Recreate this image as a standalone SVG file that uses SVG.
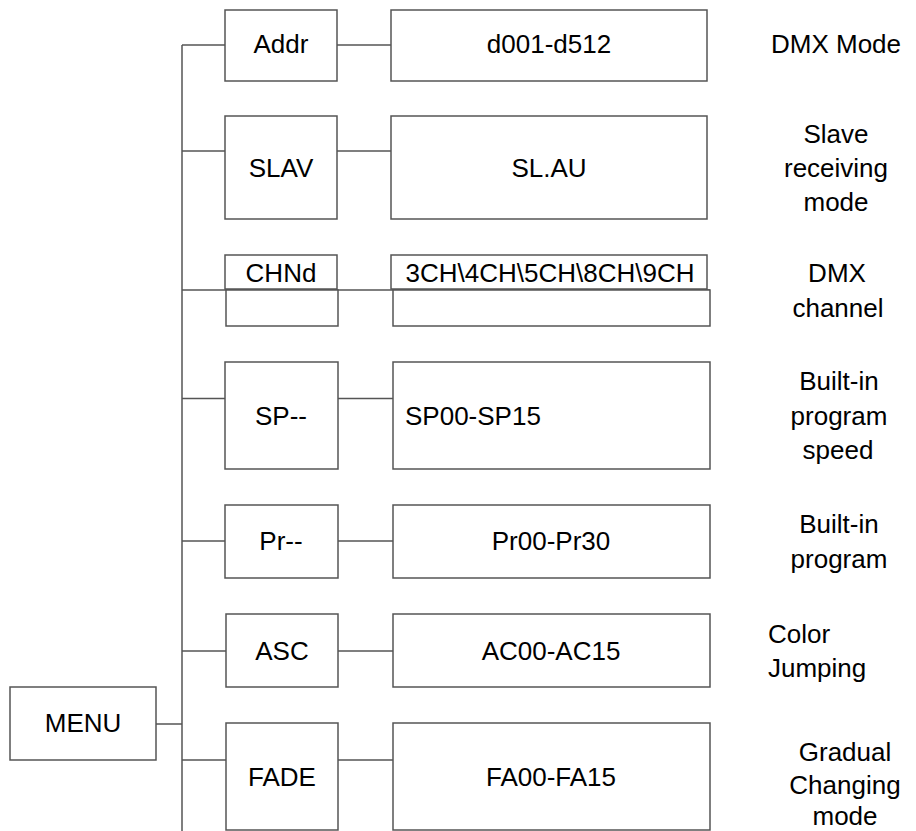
<svg xmlns="http://www.w3.org/2000/svg" width="916" height="831" viewBox="0 0 916 831">
<style>
.box{fill:#fff;stroke:#555;stroke-width:1.5}
.ln{stroke:#555;stroke-width:1.5;fill:none}
text{font-family:"Liberation Sans",Arial,sans-serif;font-size:26px;fill:#000}
.c{text-anchor:middle}
</style>
<rect width="916" height="831" fill="#fff"/>
<g id="connectors">
<line class="ln" x1="182" y1="45" x2="182" y2="831"/>
<line class="ln" x1="182" y1="45" x2="225" y2="45"/>
<line class="ln" x1="337" y1="45" x2="391" y2="45"/>
<line class="ln" x1="182" y1="151" x2="225" y2="151"/>
<line class="ln" x1="337" y1="151" x2="391" y2="151"/>
<line class="ln" x1="182" y1="290" x2="710" y2="290"/>
<line class="ln" x1="182" y1="398.5" x2="225" y2="398.5"/>
<line class="ln" x1="338" y1="398.5" x2="393" y2="398.5"/>
<line class="ln" x1="182" y1="541" x2="225" y2="541"/>
<line class="ln" x1="338" y1="541" x2="393" y2="541"/>
<line class="ln" x1="182" y1="651" x2="226" y2="651"/>
<line class="ln" x1="338" y1="651" x2="393" y2="651"/>
<line class="ln" x1="182" y1="760" x2="226" y2="760"/>
<line class="ln" x1="338" y1="760" x2="393" y2="760"/>
<line class="ln" x1="156" y1="724" x2="182" y2="724"/>
</g>
<g id="menu"><rect class="box" x="10" y="687" width="146" height="73"/><text class="c" x="83" y="732">MENU</text></g>
<g id="addr"><rect class="box" x="225" y="10" width="112" height="71"/><text class="c" x="281" y="53">Addr</text></g>
<g id="addr-val"><rect class="box" x="391" y="10" width="316" height="71"/><text class="c" x="549" y="53">d001-d512</text></g>
<g id="addr-label"><text class="c" x="836" y="53">DMX Mode</text></g>
<g id="slav"><rect class="box" x="225" y="116" width="112" height="103"/><text class="c" x="281" y="177">SLAV</text></g>
<g id="slav-val"><rect class="box" x="391" y="116" width="316" height="103"/><text class="c" x="549" y="177">SL.AU</text></g>
<g id="slav-label"><text class="c" x="836" y="143">Slave</text><text class="c" x="836" y="177">receiving</text><text class="c" x="836" y="211">mode</text></g>
<g id="chnd"><rect class="box" x="225" y="255" width="112" height="34"/><rect class="box" x="226" y="290" width="112" height="36"/><text class="c" x="281" y="282">CHNd</text></g>
<g id="chnd-val"><rect class="box" x="391" y="255" width="316" height="34"/><rect class="box" x="393" y="290" width="317" height="36"/><text class="c" x="550" y="282">3CH\4CH\5CH\8CH\9CH</text></g>
<g id="chnd-label"><text class="c" x="837" y="282">DMX</text><text class="c" x="838" y="317">channel</text></g>
<g id="sp"><rect class="box" x="225" y="362" width="113" height="107"/><text class="c" x="281" y="425">SP--</text></g>
<g id="sp-val"><rect class="box" x="393" y="362" width="317" height="107"/><text x="405" y="425">SP00-SP15</text></g>
<g id="sp-label"><text class="c" x="839" y="390">Built-in</text><text class="c" x="839" y="425">program</text><text class="c" x="838" y="459">speed</text></g>
<g id="pr"><rect class="box" x="225" y="505" width="113" height="73"/><text class="c" x="281" y="550">Pr--</text></g>
<g id="pr-val"><rect class="box" x="393" y="505" width="317" height="73"/><text class="c" x="551" y="550">Pr00-Pr30</text></g>
<g id="pr-label"><text class="c" x="839" y="533">Built-in</text><text class="c" x="839" y="568">program</text></g>
<g id="asc"><rect class="box" x="226" y="614" width="112" height="73"/><text class="c" x="282" y="660">ASC</text></g>
<g id="asc-val"><rect class="box" x="393" y="614" width="317" height="73"/><text class="c" x="551" y="660">AC00-AC15</text></g>
<g id="asc-label"><text x="768" y="643">Color</text><text x="768" y="677">Jumping</text></g>
<g id="fade"><rect class="box" x="226" y="723" width="112" height="107"/><text class="c" x="282" y="786">FADE</text></g>
<g id="fade-val"><rect class="box" x="393" y="723" width="317" height="107"/><text class="c" x="551" y="786">FA00-FA15</text></g>
<g id="fade-label"><text class="c" x="845" y="761">Gradual</text><text class="c" x="845" y="794">Changing</text><text class="c" x="845" y="825">mode</text></g>
</svg>
